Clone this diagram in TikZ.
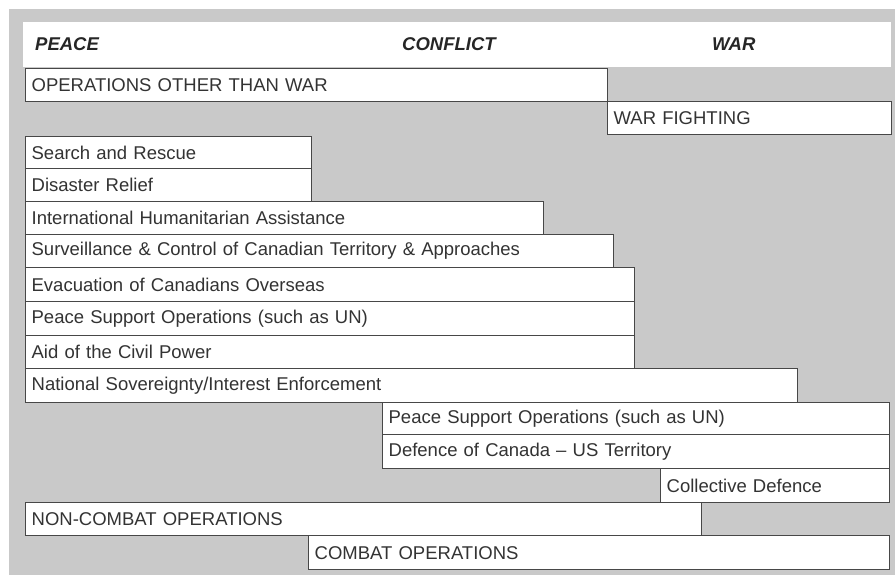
\documentclass[tikz,border=0pt]{standalone}
\usepackage{fontspec}
\setmainfont{Liberation Sans}
\begin{document}
\begin{tikzpicture}[x=1pt,y=-1pt,
  frame/.style={draw=black!72,line width=1.3pt,fill=white},
  opbox/.style={frame,rectangle,anchor=north west,inner xsep=6pt,inner ysep=0pt,
    align=left,font=\fontsize{18.5}{20}\selectfont,text=black!80},
  head/.style={anchor=west,inner sep=0pt,font=\fontsize{18.5}{20}\selectfont\bfseries\itshape,text=black!85}]
\useasboundingbox (0,0) rectangle (895,575);
\fill[white] (0,0) rectangle (895,575);
\fill[black!21] (9,9) rectangle (895,575);
\fill[white] (23,22) rectangle (891,67);
\node[head] (peace) at (35,44) {PEACE};
\node[head] (conflict) at (402,44) {CONFLICT};
\node[head] (war) at (712,44) {WAR};
\newcommand{\opb}[6]{%
  \pgfmathsetmacro{\bw}{#4-#2-12}%
  \pgfmathsetmacro{\bh}{#5-#3}%
  \node[opbox,text width=\bw pt,minimum height=\bh pt] (#1) at (#2,#3) {#6};}
\opb{ootw}{25}{68}{607}{101}{OPERATIONS OTHER THAN WAR}
\opb{warf}{607}{101}{891}{134}{WAR FIGHTING}
\opb{sar}{25}{136}{311}{168}{Search and Rescue}
\opb{dr}{25}{168}{311}{201}{Disaster Relief}
\opb{iha}{25}{201}{543}{234}{International Humanitarian Assistance}
\opb{surv}{25}{234}{613}{267}{Surveillance \& Control of Canadian Territory \& Approaches}
\opb{evac}{25}{267}{634}{301}{Evacuation of Canadians Overseas}
\opb{psoa}{25}{301}{634}{335}{Peace Support Operations (such as UN)}
\opb{aid}{25}{335}{634}{368}{Aid of the Civil Power}
\opb{nat}{25}{368}{797}{402}{National Sovereignty/Interest Enforcement}
\opb{psob}{382}{402}{889}{434}{Peace Support Operations (such as UN)}
\opb{def}{382}{434}{889}{468}{Defence of Canada – US Territory}
\opb{coll}{660}{468}{889}{502}{Collective Defence}
\opb{ncomb}{25}{502}{701}{535}{NON-COMBAT OPERATIONS}
\opb{comb}{308}{535}{889}{569}{COMBAT OPERATIONS}
\end{tikzpicture}
\end{document}
